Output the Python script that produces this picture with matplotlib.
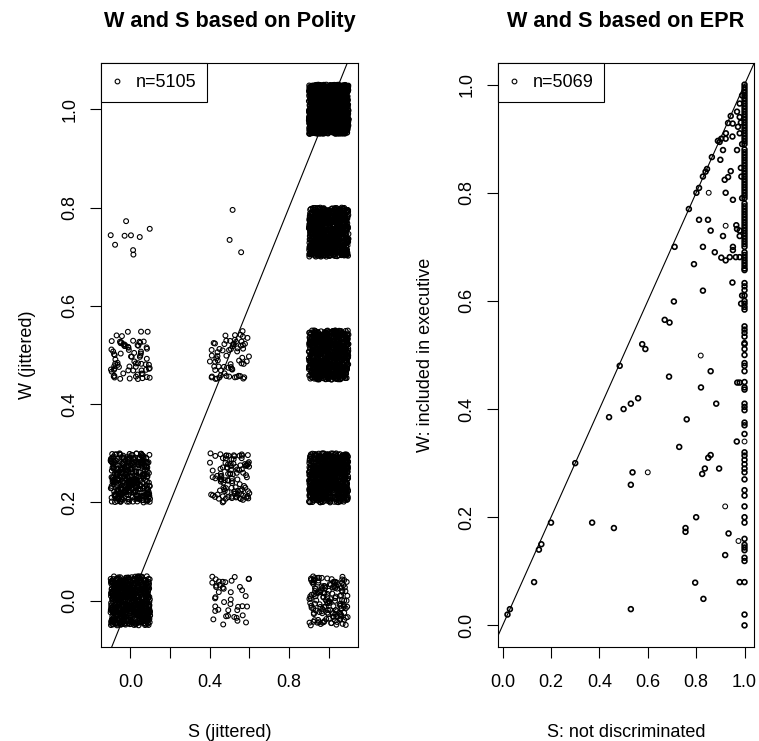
import numpy as np
import matplotlib
matplotlib.use("Agg")
import matplotlib.pyplot as plt
from matplotlib.lines import Line2D

plt.rcParams['font.family'] = ['Liberation Sans', 'DejaVu Sans']

# --- Polity panel: distinct (S, W) cells and number of country-years in each
polity_s = [0.0, 0.0, 0.0, 0.0, 0.5, 0.5, 0.5, 0.5, 1.0, 1.0, 1.0, 1.0, 1.0]
polity_w = [0.0, 0.25, 0.5, 0.75, 0.0, 0.25, 0.5, 0.75, 0.0, 0.25, 0.5, 0.75, 1.0]
polity_n = [620, 340, 75, 9, 42, 110, 68, 3, 150, 700, 700, 800, 1488]
# jitter amounts as used in the plot (R jitter() defaults)
jit_s = 0.1
jit_w = 0.05

# --- EPR panel: distinct points off the S=1 column (most are repeated country-years)
epr_s = [0.02, 0.03, 0.13, 0.15, 0.16, 0.20, 0.30, 0.37, 0.44, 0.46,
         0.484, 0.50, 0.53, 0.53, 0.537, 0.53, 0.56, 0.577, 0.59, 0.67,
         0.69, 0.688, 0.708, 0.711, 0.73, 0.756, 0.756, 0.761, 0.77, 0.791,
         0.796, 0.80, 0.801, 0.812, 0.812, 0.82, 0.825, 0.828, 0.828, 0.828,
         0.83, 0.836, 0.839, 0.845, 0.849, 0.85, 0.86, 0.86, 0.86, 0.865,
         0.877, 0.883, 0.895, 0.89, 0.897, 0.90, 0.904, 0.904, 0.911, 0.911,
         0.918, 0.922, 0.92, 0.922, 0.922, 0.923, 0.932, 0.932, 0.934, 0.939,
         0.943, 0.943, 0.95, 0.951, 0.952, 0.952, 0.952, 0.95, 0.964, 0.966,
         0.969, 0.969, 0.969, 0.968, 0.97, 0.98, 0.973, 0.98, 0.98, 0.985,
         0.98, 0.98, 0.98, 0.98, 0.99, 0.99, 0.986, 0.98, 0.99, 0.99,
         0.985, 0.987]
epr_w = [0.02, 0.03, 0.08, 0.14, 0.15, 0.19, 0.30, 0.19, 0.385, 0.18,
         0.48, 0.40, 0.41, 0.26, 0.283, 0.03, 0.42, 0.52, 0.511, 0.565,
         0.56, 0.46, 0.599, 0.70, 0.33, 0.18, 0.173, 0.381, 0.77, 0.668,
         0.079, 0.20, 0.80, 0.809, 0.75, 0.44, 0.28, 0.619, 0.70, 0.83,
         0.049, 0.29, 0.839, 0.844, 0.75, 0.31, 0.315, 0.47, 0.73, 0.866,
         0.69, 0.41, 0.29, 0.896, 0.894, 0.861, 0.90, 0.68, 0.879, 0.72,
         0.824, 0.675, 0.13, 0.80, 0.90, 0.91, 0.929, 0.829, 0.17, 0.681,
         0.942, 0.84, 0.634, 0.928, 0.787, 0.70, 0.694, 0.904, 0.681, 0.74,
         0.733, 0.95, 0.879, 0.34, 0.449, 0.449, 0.922, 0.965, 0.94, 0.93,
         0.91, 0.73, 0.72, 0.681, 0.98, 0.61, 0.595, 0.08, 0.89, 0.79,
         0.846, 0.83]
# single observations (drawn lighter in the original)
epr_single_s = [0.60, 0.819, 0.92, 0.975, 0.852, 0.922, 1.0]
epr_single_w = [0.283, 0.499, 0.22, 0.156, 0.80, 0.739, 0.34]
# W values found on the S=1 column
epr_col_w = [1.0, 0.995, 0.99, 0.985, 0.98, 0.975, 0.97, 0.965, 0.96, 0.955,
             0.95, 0.945, 0.94, 0.935, 0.93, 0.925, 0.92, 0.915, 0.91, 0.905,
             0.90, 0.895, 0.89, 0.88, 0.875, 0.87, 0.865, 0.86, 0.855, 0.85,
             0.845, 0.84, 0.835, 0.83, 0.825, 0.82, 0.815, 0.81, 0.805, 0.80,
             0.795, 0.79, 0.78, 0.775, 0.77, 0.765, 0.76, 0.755, 0.75, 0.745,
             0.74, 0.735, 0.73, 0.725, 0.72, 0.715, 0.71, 0.705, 0.70, 0.69,
             0.685, 0.68, 0.675, 0.67, 0.665, 0.66, 0.657,
             0.633, 0.627, 0.62, 0.61, 0.60, 0.595, 0.589, 0.584, 0.553,
             0.547, 0.541, 0.534, 0.522, 0.52, 0.511, 0.50, 0.485, 0.48, 0.47,
             0.45, 0.44, 0.436, 0.41, 0.404, 0.398, 0.375, 0.37, 0.354, 0.32,
             0.314, 0.306, 0.298, 0.29, 0.283, 0.27, 0.25, 0.24, 0.22, 0.20,
             0.19, 0.16, 0.149, 0.144, 0.139, 0.125, 0.119, 0.08, 0.02, 0.0]
epr_n = 5069

FS = 13
MS = 12  # scatter marker area

fig = plt.figure(figsize=(7.59, 7.41), dpi=100)
ax1 = fig.add_axes([101 / 759, 94 / 741, 257 / 759, 584 / 741])
ax2 = fig.add_axes([498 / 759, 94 / 741, 256 / 759, 584 / 741])

# left: jittered Polity cells
rng = np.random.default_rng(11)
xs, ys = [], []
for s, w, n in zip(polity_s, polity_w, polity_n):
    xs.append(s + rng.uniform(-jit_s, jit_s, n))
    ys.append(w + rng.uniform(-jit_w, jit_w, n))
xs = np.concatenate(xs)
ys = np.concatenate(ys)
order = rng.permutation(len(xs))
ax1.scatter(xs[order], ys[order], s=MS, facecolors='none', edgecolors='black', linewidths=0.8)
ax1.axline((0, 0), slope=1, color='black', lw=0.8)
ax1.set_xlim(-0.148, 1.148)
ax1.set_ylim(-0.094, 1.094)
ax1.set_xticks([0, 0.2, 0.4, 0.6, 0.8, 1.0])
ax1.set_xticklabels(['0.0', '', '0.4', '', '0.8', ''])
ax1.set_yticks([0, 0.2, 0.4, 0.6, 0.8, 1.0])
ax1.set_yticklabels(['0.0', '0.2', '0.4', '0.6', '0.8', '1.0'])
ax1.set_title('W and S based on Polity', fontsize=FS * 1.2, fontweight='bold', y=1.062, pad=0)
ax1.set_xlabel('S (jittered)', fontsize=FS)
ax1.set_ylabel('W (jittered)', fontsize=FS)

# right: EPR
ax2.scatter(epr_s, epr_w, s=MS, facecolors='none', edgecolors='black', linewidths=1.2)
ax2.scatter([1.0] * len(epr_col_w), epr_col_w, s=MS, facecolors='none', edgecolors='black', linewidths=1.2)
ax2.scatter(epr_single_s, epr_single_w, s=MS, facecolors='none', edgecolors='black', linewidths=0.75)
ax2.axline((0, 0), slope=1, color='black', lw=0.8)
ax2.set_xlim(-0.0192, 1.0392)
ax2.set_ylim(-0.04, 1.04)
ax2.set_xticks([0, 0.2, 0.4, 0.6, 0.8, 1.0])
ax2.set_xticklabels(['0.0', '0.2', '0.4', '0.6', '0.8', '1.0'])
ax2.set_yticks([0, 0.2, 0.4, 0.6, 0.8, 1.0])
ax2.set_yticklabels(['0.0', '0.2', '0.4', '0.6', '0.8', '1.0'])
ax2.set_title('W and S based on EPR', fontsize=FS * 1.2, fontweight='bold', y=1.062, pad=0)
ax2.set_xlabel('S: not discriminated', fontsize=FS)
ax2.set_ylabel('W: included in executive', fontsize=FS)

for ax, n in [(ax1, sum(polity_n)), (ax2, epr_n)]:
    for sp in ax.spines.values():
        sp.set_linewidth(0.8)
    ax.tick_params(direction='out', length=7.9, width=0.8, labelsize=FS)
    ax.tick_params(axis='x', pad=11.5)
    ax.tick_params(axis='y', pad=8.4, labelrotation=90)
    for lab in ax.get_yticklabels():
        lab.set_va('center')
    ax.xaxis.set_label_coords(0.5, -0.154)
    ax.xaxis.label.set_va('baseline')
    ax.yaxis.set_label_coords(-73 / 257, 0.5)
    ax.yaxis.label.set_va('center')
    h = Line2D([], [], marker='o', linestyle='none', markersize=3.4, markerfacecolor='none',
               markeredgecolor='black', markeredgewidth=0.8)
    leg = ax.legend([h], [f'n={n}'], loc='upper left', fontsize=FS, borderaxespad=0,
                    fancybox=False, framealpha=1, edgecolor='black', borderpad=0.6,
                    handlelength=0.6, handletextpad=0.7)
    leg.get_frame().set_linewidth(0.8)

fig.savefig('out.png', dpi=100)
